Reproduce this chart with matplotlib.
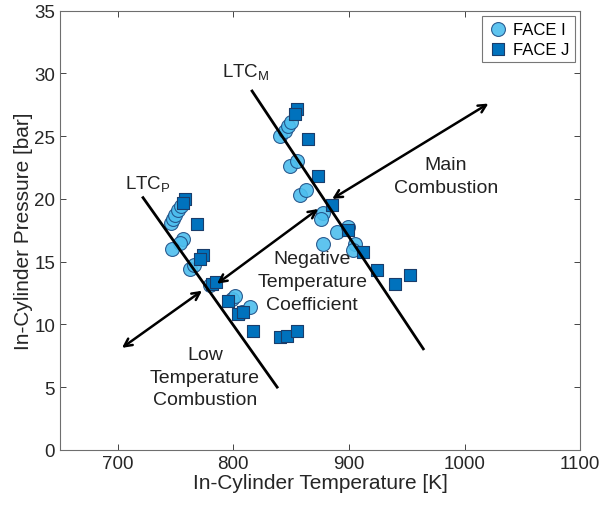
import matplotlib
matplotlib.use("Agg")
import matplotlib.pyplot as plt

plt.rcParams['font.family'] = ['Liberation Sans', 'DejaVu Sans']
plt.rcParams['mathtext.fontset'] = 'custom'
plt.rcParams['mathtext.rm'] = 'Liberation Sans'

# ------------------------------------------------------
# Data: in-cylinder temperature [K] / pressure [bar]
# ------------------------------------------------------
face_i_temp = [746.1, 747.8, 749.6, 752.2, 754.8, 756.5, 753.9, 747.0, 762.6, 766.0,
               779.9, 798.9, 801.5, 807.6, 814.5,
               840.5, 844.8, 847.4, 850.0, 849.1, 855.2, 857.8, 863.0, 877.7, 876.0,
               889.8, 899.4, 877.7, 905.4, 903.7]
face_i_pres = [18.1, 18.4, 18.7, 19.1, 19.4, 16.8, 16.5, 16.0, 14.4, 14.75,
               13.1, 12.0, 12.3, 11.0, 11.4,
               25.0, 25.4, 25.8, 26.1, 22.6, 23.0, 20.3, 20.7, 18.9, 18.4,
               17.4, 17.8, 16.4, 16.4, 15.9]

face_j_temp = [758.2, 756.5, 768.6, 773.8, 771.2, 781.6, 785.1, 795.5, 804.1, 808.4,
               817.1, 840.5, 846.5, 855.2,
               855.2, 853.5, 864.7, 873.4, 885.5, 899.4, 912.3, 924.5, 940.0, 953.0]
face_j_pres = [20.0, 19.7, 18.0, 15.5, 15.2, 13.2, 13.4, 11.9, 10.8, 11.0,
               9.5, 9.0, 9.1, 9.5,
               27.2, 26.8, 24.8, 21.8, 19.5, 17.5, 15.8, 14.3, 13.2, 13.9]

# regime boundaries (T, p end points)
ltc_m_line = ([816.2, 964.3], [28.6, 8.05])
ltc_p_line = ([721.9, 837.9], [20.1, 5.0])

# double arrows between regimes: (start, end)
regime_arrows = [((703.7, 8.13), (772.9, 12.68)),
                 ((785.9, 13.24), (873.4, 19.2)),
                 ((885.5, 20.0), (1020.6, 27.6))]

x_ticks = [700, 800, 900, 1000, 1100]
y_ticks = [0, 5, 10, 15, 20, 25, 30, 35]

# ------------------------------------------------------
# Figure
# ------------------------------------------------------
fig = plt.figure(figsize=(6.05, 5.10), dpi=100)
ax = fig.add_axes([0.099, 0.116, 0.860, 0.861])

ax.scatter(face_i_temp, face_i_pres, s=100, marker='o', facecolor='#4DBEEE',
           edgecolor='#1f4f86', linewidth=0.8, alpha=0.9, label='FACE I', zorder=3)
ax.scatter(face_j_temp, face_j_pres, s=72, marker='s', facecolor='#0072BD',
           edgecolor='#1a3d6b', linewidth=0.8, label='FACE J', zorder=3)

ax.plot(*ltc_m_line, color='black', lw=2, zorder=4)
ax.plot(*ltc_p_line, color='black', lw=2, zorder=4)

for start, end in regime_arrows:
    ax.annotate('', xy=end, xytext=start,
                arrowprops=dict(arrowstyle='<->,head_length=0.55,head_width=0.28',
                                color='black', lw=1.8, shrinkA=0, shrinkB=0),
                zorder=5)

txt_kw = dict(fontsize=14, color='#222222', ha='center', va='center', linespacing=1.45)
ax.text(790.3, 30.1, r'LTC$_\mathregular{M}$', fontsize=13.5, color='#222222', ha='left', va='center')
ax.text(706.3, 21.2, r'LTC$_\mathregular{P}$', fontsize=13.5, color='#222222', ha='left', va='center')
ax.text(984.0, 21.8, 'Main\nCombustion', **txt_kw)
ax.text(868.2, 13.4, 'Negative\nTemperature\nCoefficient', **txt_kw)
ax.text(775.5, 5.8, 'Low\nTemperature\nCombustion', **txt_kw)

ax.set_xlim(650, 1100)
ax.set_ylim(0, 35)
ax.set_xticks(x_ticks)
ax.set_yticks(y_ticks)
ax.tick_params(direction='in', top=True, right=True, labelsize=13.5,
               colors='#262626', length=4, width=0.6)
for spine in ax.spines.values():
    spine.set_color('#6e6e6e')
    spine.set_linewidth(0.8)

ax.set_xlabel('In-Cylinder Temperature [K]', fontsize=15, color='#262626', labelpad=1)
ax.set_ylabel('In-Cylinder Pressure [bar]', fontsize=15, color='#262626', labelpad=1)

leg = ax.legend(loc='upper right', fontsize=12, frameon=True, fancybox=False,
                edgecolor='#555555', handletextpad=0.3, borderpad=0.35,
                labelspacing=0.3, handlelength=1.2, borderaxespad=0.3)
leg.get_frame().set_linewidth(0.8)

fig.savefig('out.png', dpi=100)
